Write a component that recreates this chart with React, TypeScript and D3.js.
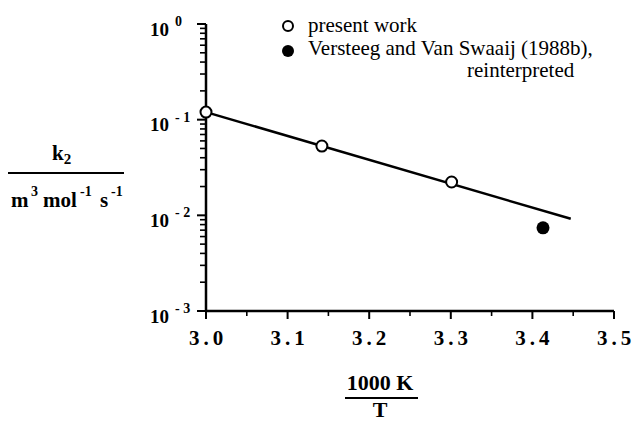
import * as d3 from 'd3';
import * as React from 'react';
import { useEffect, useRef } from 'react';

// data
const presentX = [3.0, 3.142, 3.301];
const presentK = [0.12, 0.053, 0.0223];
const versteegX = [3.413];
const versteegK = [0.0074];
// fitted line end points
const fitX = [3.0, 3.447];
const fitK = [0.12, 0.0092];

const xTicks = [3.0, 3.1, 3.2, 3.3, 3.4, 3.5];
const decades = [0, -1, -2, -3];
const legendLabels = ['present work', 'Versteeg and Van Swaaij (1988b),', 'reinterpreted'];

const W = 634, H = 421;
const serif = "'Liberation Serif', 'Times New Roman', Times, 'DejaVu Serif', serif";

function App() {
  const svgRef = useRef<SVGSVGElement | null>(null);

  useEffect(() => {
    const svg = d3.select(svgRef.current);
    svg.selectAll('*').remove();

    const x = d3.scaleLinear().domain([3.0, 3.5]).range([206, 614]);
    const y = d3.scaleLog().domain([1e-3, 1]).range([311, 24]);

    const g = svg.append('g').style('font-family', serif);

    // axes lines
    g.append('line')
      .attr('x1', x(3.0)).attr('x2', x(3.0))
      .attr('y1', y(1)).attr('y2', y(1e-3))
      .attr('stroke', '#000').attr('stroke-width', 2.5);
    g.append('line')
      .attr('x1', x(3.0)).attr('x2', x(3.5))
      .attr('y1', y(1e-3)).attr('y2', y(1e-3))
      .attr('stroke', '#000').attr('stroke-width', 2.5);

    // y ticks (major + minor)
    const yMinor: number[] = [];
    for (let e = -3; e < 0; e++) {
      for (let m = 2; m <= 9; m++) yMinor.push(m * Math.pow(10, e));
    }
    g.selectAll('.ymin').data(yMinor).enter().append('line')
      .attr('class', 'ymin')
      .attr('x1', x(3.0) - 6).attr('x2', x(3.0))
      .attr('y1', d => y(d)).attr('y2', d => y(d))
      .attr('stroke', '#000').attr('stroke-width', 1.6);
    g.selectAll('.ymaj').data(decades).enter().append('line')
      .attr('class', 'ymaj')
      .attr('x1', x(3.0) - 9).attr('x2', x(3.0))
      .attr('y1', d => y(Math.pow(10, d))).attr('y2', d => y(Math.pow(10, d)))
      .attr('stroke', '#000').attr('stroke-width', 2);

    // y tick labels 10^n
    const lab = g.selectAll('.ylab').data(decades).enter().append('g').attr('class', 'ylab');
    lab.append('text')
      .attr('x', 150).attr('y', d => y(Math.pow(10, d)) + 11.5)
      .style('font-weight', 'bold').style('font-size', '19px')
      .text('10');
    lab.append('text')
      .attr('x', 175).attr('y', d => y(Math.pow(10, d)) + 2)
      .style('font-weight', 'bold').style('font-size', '14px')
      .style('white-space', 'pre')
      .text(d => d === 0 ? '0' : '- ' + (-d));

    // x ticks
    const xMinor = xTicks.slice(0, -1).map(v => v + 0.05);
    g.selectAll('.xmin').data(xMinor).enter().append('line')
      .attr('class', 'xmin')
      .attr('x1', d => x(d)).attr('x2', d => x(d))
      .attr('y1', y(1e-3)).attr('y2', y(1e-3) + 5)
      .attr('stroke', '#000').attr('stroke-width', 1.6);
    g.selectAll('.xmaj').data(xTicks).enter().append('line')
      .attr('class', 'xmaj')
      .attr('x1', d => x(d)).attr('x2', d => x(d))
      .attr('y1', y(1e-3)).attr('y2', y(1e-3) + 8)
      .attr('stroke', '#000').attr('stroke-width', 2);
    g.selectAll('.xlab').data(xTicks).enter().append('text')
      .attr('class', 'xlab')
      .attr('x', d => x(d) + 2).attr('y', 345)
      .attr('text-anchor', 'middle')
      .style('font-weight', 'bold').style('font-size', '21px')
      .style('letter-spacing', '4px')
      .text(d => d.toFixed(1));

    // fitted line
    const line = d3.line<number>()
      .x((d, i) => x(fitX[i]))
      .y(d => y(d));
    g.append('path')
      .datum(fitK)
      .attr('d', line)
      .attr('fill', 'none').attr('stroke', '#000').attr('stroke-width', 2.5);

    // points
    g.selectAll('.pres').data(presentK).enter().append('circle')
      .attr('class', 'pres')
      .attr('cx', (d, i) => x(presentX[i])).attr('cy', d => y(d))
      .attr('r', 5.5).attr('fill', '#fff').attr('stroke', '#000').attr('stroke-width', 2);
    g.selectAll('.vers').data(versteegK).enter().append('circle')
      .attr('class', 'vers')
      .attr('cx', (d, i) => x(versteegX[i])).attr('cy', d => y(d))
      .attr('r', 6.5).attr('fill', '#000');

    // legend
    g.append('circle').attr('cx', 288).attr('cy', 26).attr('r', 5)
      .attr('fill', '#fff').attr('stroke', '#000').attr('stroke-width', 2);
    g.append('circle').attr('cx', 288).attr('cy', 51).attr('r', 6).attr('fill', '#000');
    const legPos = [[308, 32], [308, 55], [467, 77]];
    g.selectAll('.leg').data(legendLabels).enter().append('text')
      .attr('class', 'leg')
      .attr('x', (d, i) => legPos[i][0]).attr('y', (d, i) => legPos[i][1])
      .style('font-size', '21px')
      .text(d => d);

    // y axis title as fraction
    const yt = g.append('g').style('font-weight', 'bold');
    const k = yt.append('text').attr('x', 52).attr('y', 160).style('font-size', '21px');
    k.append('tspan').text('k');
    k.append('tspan').style('font-size', '15px').attr('dy', 4).text('2');
    yt.append('line').attr('x1', 8).attr('x2', 124).attr('y1', 173).attr('y2', 173)
      .attr('stroke', '#000').attr('stroke-width', 2);
    const u = yt.append('text').attr('y', 207).style('font-size', '21px');
    u.append('tspan').attr('x', 11).text('m');
    u.append('tspan').attr('x', 31).attr('dy', -11).style('font-size', '14px').text('3');
    u.append('tspan').attr('x', 43).attr('dy', 11).text('mol');
    u.append('tspan').attr('x', 80).attr('dy', -11).style('font-size', '14px').text('-1');
    u.append('tspan').attr('x', 100).attr('dy', 11).text('s');
    u.append('tspan').attr('x', 111).attr('dy', -11).style('font-size', '14px').text('-1');

    // x axis title as fraction
    const xt = g.append('g').style('font-weight', 'bold')
      .style('font-size', '22px').attr('text-anchor', 'middle');
    xt.append('text').attr('x', 380).attr('y', 390).text('1000 K');
    xt.append('line').attr('x1', 345).attr('x2', 418).attr('y1', 398).attr('y2', 398)
      .attr('stroke', '#000').attr('stroke-width', 2);
    xt.append('text').attr('x', 380).attr('y', 417).text('T');
  }, []);

  return (
    <svg ref={svgRef} width={W} height={H}
      style={{ position: 'absolute', left: 0, top: 0, background: '#fff' }} />
  );
}

export default App;
